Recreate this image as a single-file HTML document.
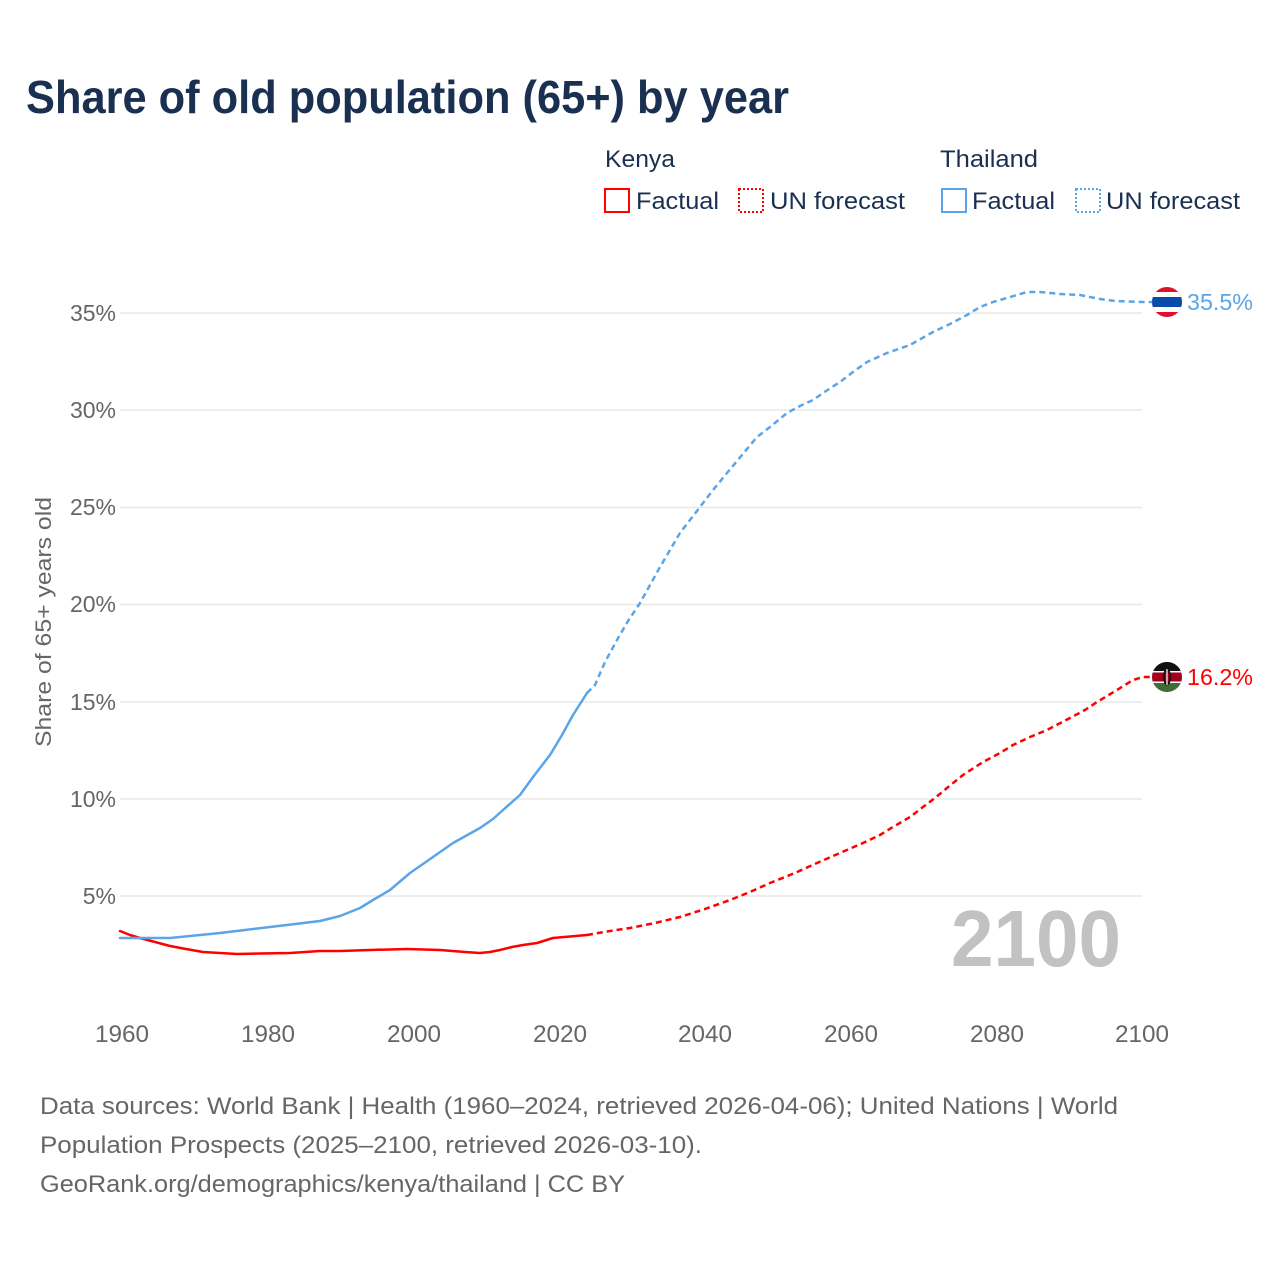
<!DOCTYPE html>
<html>
<head>
<meta charset="utf-8">
<style>
  html, body { margin: 0; padding: 0; background: #fff; }
  svg { display: block; }
  text { font-family: "Liberation Sans", sans-serif; }
</style>
</head>
<body>
<svg width="1280" height="1280" viewBox="0 0 1280 1280" xmlns="http://www.w3.org/2000/svg">
  <rect width="1280" height="1280" fill="#ffffff"/>

  <!-- Title -->
  <text x="26" y="113" font-size="46" font-weight="bold" fill="#1a3050" textLength="763" lengthAdjust="spacingAndGlyphs">Share of old population (65+) by year</text>

  <!-- Legend -->
  <text x="605" y="167" font-size="24" fill="#1a3050" textLength="70" lengthAdjust="spacingAndGlyphs">Kenya</text>
  <text x="940" y="167" font-size="24" fill="#1a3050" textLength="98" lengthAdjust="spacingAndGlyphs">Thailand</text>

  <rect x="605" y="189" width="24" height="23" fill="none" stroke="#ff0000" stroke-width="2"/>
  <text x="636" y="209" font-size="24" fill="#1a3050" textLength="83" lengthAdjust="spacingAndGlyphs">Factual</text>
  <rect x="739" y="189" width="24" height="23" fill="none" stroke="#ff0000" stroke-width="2" stroke-dasharray="2,2"/>
  <text x="770" y="209" font-size="24" fill="#1a3050" textLength="135" lengthAdjust="spacingAndGlyphs">UN forecast</text>

  <rect x="942" y="189" width="24" height="23" fill="none" stroke="#5aa5e8" stroke-width="2"/>
  <text x="972" y="209" font-size="24" fill="#1a3050" textLength="83" lengthAdjust="spacingAndGlyphs">Factual</text>
  <rect x="1076" y="189" width="24" height="23" fill="none" stroke="#5aa5e8" stroke-width="2" stroke-dasharray="2,2"/>
  <text x="1106" y="209" font-size="24" fill="#1a3050" textLength="134" lengthAdjust="spacingAndGlyphs">UN forecast</text>

  <!-- Gridlines -->
  <g stroke="#e8e8e8" stroke-width="1.5">
    <line x1="120" y1="313" x2="1142" y2="313"/>
    <line x1="120" y1="410" x2="1142" y2="410"/>
    <line x1="120" y1="507.5" x2="1142" y2="507.5"/>
    <line x1="120" y1="604.5" x2="1142" y2="604.5"/>
    <line x1="120" y1="702" x2="1142" y2="702"/>
    <line x1="120" y1="799" x2="1142" y2="799"/>
    <line x1="120" y1="896" x2="1142" y2="896"/>
  </g>

  <!-- Y tick labels -->
  <g font-size="23" fill="#666666" text-anchor="end">
    <text x="116" y="321">35%</text>
    <text x="116" y="418">30%</text>
    <text x="116" y="515">25%</text>
    <text x="116" y="612">20%</text>
    <text x="116" y="710">15%</text>
    <text x="116" y="807">10%</text>
    <text x="116" y="904">5%</text>
  </g>

  <!-- Y axis title -->
  <text transform="translate(51,622) rotate(-90)" font-size="22" fill="#666666" text-anchor="middle" textLength="250" lengthAdjust="spacingAndGlyphs">Share of 65+ years old</text>

  <!-- X tick labels -->
  <g font-size="24" fill="#666666" text-anchor="middle">
    <text x="122" y="1042" textLength="54" lengthAdjust="spacingAndGlyphs">1960</text>
    <text x="268" y="1042" textLength="54" lengthAdjust="spacingAndGlyphs">1980</text>
    <text x="414" y="1042" textLength="54" lengthAdjust="spacingAndGlyphs">2000</text>
    <text x="560" y="1042" textLength="54" lengthAdjust="spacingAndGlyphs">2020</text>
    <text x="705" y="1042" textLength="54" lengthAdjust="spacingAndGlyphs">2040</text>
    <text x="851" y="1042" textLength="54" lengthAdjust="spacingAndGlyphs">2060</text>
    <text x="997" y="1042" textLength="54" lengthAdjust="spacingAndGlyphs">2080</text>
    <text x="1142" y="1042" textLength="54" lengthAdjust="spacingAndGlyphs">2100</text>
  </g>

  <!-- Big year -->
  <text x="1121" y="966" font-size="80" font-weight="bold" fill="#c2c2c2" text-anchor="end" textLength="170" lengthAdjust="spacingAndGlyphs">2100</text>

  <!-- Kenya factual -->
  <polyline fill="none" stroke="#ff0000" stroke-width="2.5" stroke-linejoin="round" stroke-linecap="round"
    points="120,931 130,935 140,938 155,942 170,946 186,949 203,952 220,953 237,954 260,953.5 290,953 320,951 340,951 370,950 407,949 440,950 465,952 480,953 490,952 500,950 512,947 523,945 537,943 553,938 570,936.5 587,935"/>
  <!-- Kenya forecast -->
  <polyline fill="none" stroke="#ff0000" stroke-width="2.5" stroke-dasharray="6,4" stroke-linejoin="round"
    points="587,935 610,931 630,928 655,923 680,917 705,909 730,900 750,892 770,883 795,873 817,863 840,853 863,843 880,835 893,827 910,817 923,807 935,798 947,788 963,775 983,762 1000,753 1013,745 1030,737 1047,730 1070,718 1085,710 1097,702 1117,690 1133,680 1143,677 1152,677"/>

  <!-- Thailand factual -->
  <polyline fill="none" stroke="#5aa5e8" stroke-width="2.5" stroke-linejoin="round" stroke-linecap="round"
    points="120,938 145,938 170,938 195,935.5 220,933 245,930 270,927 295,924 320,921 340,916 360,908 373,900 390,890 410,873 433,857 453,843 480,828 493,819 503,810 520,795 533,777 550,755 562,735 573,715 587,693"/>
  <!-- Thailand forecast -->
  <polyline fill="none" stroke="#5aa5e8" stroke-width="2.5" stroke-dasharray="6,4" stroke-linejoin="round"
    points="587,693 595,685 605,662 617,640 628,621 640,603 650,585 660,567 670,550 680,533 690,520 700,507 713,490 727,473 742,455 757,437 770,427 787,413 800,406 813,400 826,391 840,382 853,372 867,362 887,353 910,345 933,332 950,324 967,315 980,307 993,302 1007,298 1027,292 1040,292 1060,294 1080,295 1100,299 1115,301 1142,302 1152,302"/>

  <defs>
    <clipPath id="thc"><circle cx="1167" cy="302" r="15"/></clipPath>
    <clipPath id="kec"><circle cx="1167" cy="677" r="15"/></clipPath>
  </defs>

  <!-- Thailand flag -->
  <g clip-path="url(#thc)">
    <rect x="1150" y="285" width="34" height="34" fill="#e0112b"/>
    <rect x="1150" y="292" width="34" height="20" fill="#ffffff"/>
    <rect x="1150" y="297" width="34" height="10" fill="#0a4aa8"/>
  </g>

  <!-- Kenya flag -->
  <g clip-path="url(#kec)">
    <rect x="1150" y="660" width="34" height="34" fill="#436b35"/>
    <rect x="1150" y="660" width="34" height="11.5" fill="#111111"/>
    <rect x="1150" y="671" width="34" height="12" fill="#ffffff"/>
    <rect x="1150" y="672.5" width="34" height="9" fill="#a3001f"/>
    <ellipse cx="1167" cy="677" rx="4" ry="8.5" fill="#111111"/>
    <ellipse cx="1167" cy="677" rx="2.2" ry="6" fill="#a3001f"/>
    <line x1="1167" y1="669" x2="1167" y2="685" stroke="#ffffff" stroke-width="1.2"/>
  </g>

  <!-- End value labels -->
  <text x="1187" y="310" font-size="23" fill="#5aa5e8" textLength="66" lengthAdjust="spacingAndGlyphs">35.5%</text>
  <text x="1187" y="685" font-size="23" fill="#ff0000" textLength="66" lengthAdjust="spacingAndGlyphs">16.2%</text>

  <!-- Footer -->
  <g font-size="24" fill="#666666">
    <text x="40" y="1114" textLength="1078" lengthAdjust="spacingAndGlyphs">Data sources: World Bank | Health (1960–2024, retrieved 2026-04-06); United Nations | World</text>
    <text x="40" y="1153" textLength="662" lengthAdjust="spacingAndGlyphs">Population Prospects (2025–2100, retrieved 2026-03-10).</text>
    <text x="40" y="1192" textLength="585" lengthAdjust="spacingAndGlyphs">GeoRank.org/demographics/kenya/thailand | CC BY</text>
  </g>
</svg>
</body>
</html>
